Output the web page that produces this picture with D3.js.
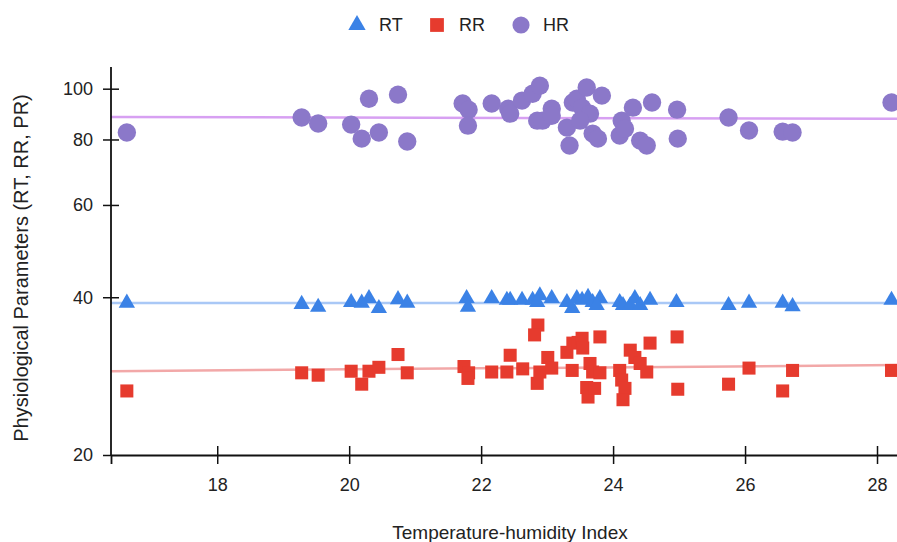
<!DOCTYPE html>
<html>
<head>
<meta charset="utf-8">
<title>THI vs physiological parameters</title>
<script src="https://d3js.org/d3.v7.min.js"></script>
<style>
  body { margin: 0; background: #fff; }
  svg text { font-family: "Liberation Sans", Arial, sans-serif; fill: #222; }
</style>
</head>
<body>
<svg id="chart" width="897" height="542"></svg>
<script>
// series data: [THI, value]
var rtPoints = [[16.63,39.0],[19.28,38.8],[19.53,38.3],[20.03,39.1],[20.19,39.0],[20.30,39.8],[20.45,38.1],[20.74,39.6],[20.88,39.0],
  [21.78,39.8],[21.80,38.3],[22.16,39.8],[22.39,39.5],[22.44,39.5],[22.62,39.5],[22.78,39.5],[22.89,40.3],[22.85,39.1],[23.07,39.8],
  [23.30,39.1],[23.38,38.1],[23.45,39.8],[23.53,39.5],[23.62,40.0],[23.69,39.1],[23.80,39.8],[23.75,38.6],[24.10,39.1],[24.15,38.6],
  [24.26,38.6],[24.33,39.8],[24.41,38.6],[24.56,39.5],[24.96,39.1],[25.75,38.6],[26.06,39.0],[26.57,39.0],[26.72,38.4],[28.22,39.5]];

var rrPoints = [[16.63,26.5],[19.28,28.7],[19.53,28.4],[20.03,28.9],[20.19,27.3],[20.30,28.9],[20.45,29.4],[20.74,31.1],[20.88,28.7],
  [21.74,29.5],[21.81,28.7],[21.80,28.0],[22.16,28.8],[22.39,28.8],[22.44,31.0],[22.63,29.2],[22.86,35.4],[22.81,33.9],[22.85,27.4],
  [22.89,28.8],[23.01,30.7],[23.07,29.3],[23.30,31.4],[23.38,29.0],[23.39,32.7],[23.47,32.8],[23.53,33.4],[23.54,32.0],[23.80,33.6],
  [23.65,29.9],[23.69,28.8],[23.80,28.7],[23.60,26.9],[23.62,25.8],[23.72,26.8],[24.10,29.0],[24.13,27.8],[24.18,26.8],[24.15,25.5],
  [24.26,31.7],[24.33,30.7],[24.41,29.9],[24.51,28.8],[24.56,32.7],[24.97,33.6],[24.98,26.7],[25.75,27.3],[26.06,29.3],[26.57,26.5],
  [26.72,29.0],[28.22,29.0]];

var hrPoints = [[16.63,82.5],[19.28,88.1],[19.53,85.8],[20.03,85.4],[20.19,80.3],[20.30,95.7],[20.45,82.5],[20.74,97.4],[20.88,79.3],
  [21.72,93.7],[21.81,91.2],[21.80,85.0],[22.16,93.7],[22.41,91.6],[22.44,89.6],[22.62,94.9],[22.78,97.8],[22.89,101.3],[22.85,86.9],
  [22.93,86.9],[23.07,91.6],[23.07,88.8],[23.30,84.3],[23.34,77.9],[23.39,94.1],[23.45,95.7],[23.53,92.0],[23.60,100.5],[23.65,89.6],
  [23.50,86.9],[23.83,97.0],[23.69,82.1],[23.77,80.3],[24.13,86.9],[24.10,81.4],[24.18,83.9],[24.30,92.0],[24.41,79.6],[24.51,77.9],
  [24.59,94.1],[24.97,91.2],[24.98,80.3],[25.75,88.1],[26.06,83.2],[26.57,82.8],[26.72,82.5],[28.22,94.1]];

// trend lines: [[x0,y0],[x1,y1]]
var rtTrend = [[16.39,39.0],[28.5,39.0]];
var rrTrend = [[16.39,28.9],[28.5,29.7]];
var hrTrend = [[16.39,88.3],[28.5,87.6]];

var xTicks = [18, 20, 22, 24, 26, 28];
var yTicks = [20, 40, 60, 80, 100];

var seriesNames = ["RT", "RR", "HR"];
var colors = {RT: "#3b82e6", RR: "#e63b2e", HR: "#8b78c9"};
var trendColors = {RT: "#a9c8f6", RR: "#f2a8a8", HR: "#d7a0f2"};

var svg = d3.select("#chart");

var x = d3.scaleLinear().domain([16.39, 28.5]).range([111, 910]);
var y = d3.scaleLog().domain([20, 110]).range([455, 67]);

// trend lines
var line = d3.line().x(function(d){ return x(d[0]); }).y(function(d){ return y(d[1]); });
var trends = {RT: rtTrend, RR: rrTrend, HR: hrTrend};
seriesNames.forEach(function(s){
  svg.append("path")
    .attr("d", line(trends[s]))
    .attr("fill", "none")
    .attr("stroke", trendColors[s])
    .attr("stroke-width", 2.5);
});

// axes
var yAxis = d3.axisLeft(y).tickValues(yTicks).tickFormat(d3.format("d")).tickSizeOuter(0).tickSize(8).tickPadding(10);
var gy = svg.append("g").attr("transform", "translate(111,0)").call(yAxis);
gy.select(".domain").attr("d", "M0," + y.range()[1] + "V" + y.range()[0]);
gy.selectAll(".tick line").attr("x1", function(d){ return d === 20 ? 0 : 8; });

var xAxis = d3.axisBottom(x).tickValues(xTicks).tickSizeOuter(0).tickSize(9).tickPadding(14);
var gx = svg.append("g").attr("transform", "translate(0,455)").call(xAxis);
gx.selectAll(".tick line").attr("y1", -9);

[gx, gy].forEach(function(g){
  g.select(".domain").attr("stroke", "#111").attr("stroke-width", 1.8);
  g.selectAll(".tick line").attr("stroke", "#111").attr("stroke-width", 1.5);
  g.selectAll(".tick text").attr("font-size", 18).attr("fill", "#222")
    .style("font-family", "'Liberation Sans', Arial, sans-serif");
});

// points
var symbols = {RT: d3.symbolTriangle, RR: d3.symbolSquare, HR: d3.symbolCircle};
var sizes = {RT: 115, RR: 170, HR: 265};
var points = {RT: rtPoints, RR: rrPoints, HR: hrPoints};

seriesNames.forEach(function(s){
  svg.append("g").selectAll("path")
    .data(points[s])
    .enter().append("path")
    .attr("d", d3.symbol().type(symbols[s]).size(sizes[s]))
    .attr("transform", function(d){ return "translate(" + x(d[0]) + "," + y(d[1]) + ")"; })
    .attr("fill", colors[s]);
});

// legend
var legendX = {RT: 357, RR: 437, HR: 521};
var legend = svg.append("g");
seriesNames.forEach(function(s){
  legend.append("path")
    .attr("d", d3.symbol().type(symbols[s]).size(s === "HR" ? 230 : (s === "RR" ? 190 : 130)))
    .attr("transform", "translate(" + legendX[s] + ",25)")
    .attr("fill", colors[s]);
  legend.append("text")
    .attr("x", legendX[s] + 22)
    .attr("y", 31)
    .attr("font-size", 18)
    .attr("fill", "#333")
    .text(s);
});

// axis titles
svg.append("text")
  .attr("x", 510).attr("y", 539)
  .attr("text-anchor", "middle")
  .attr("font-size", 19)
  .text("Temperature-humidity Index");

svg.append("text")
  .attr("transform", "translate(28,268) rotate(-90)")
  .attr("text-anchor", "middle")
  .attr("font-size", 20)
  .text("Physiological Parameters (RT, RR, PR)");
</script>
</body>
</html>
